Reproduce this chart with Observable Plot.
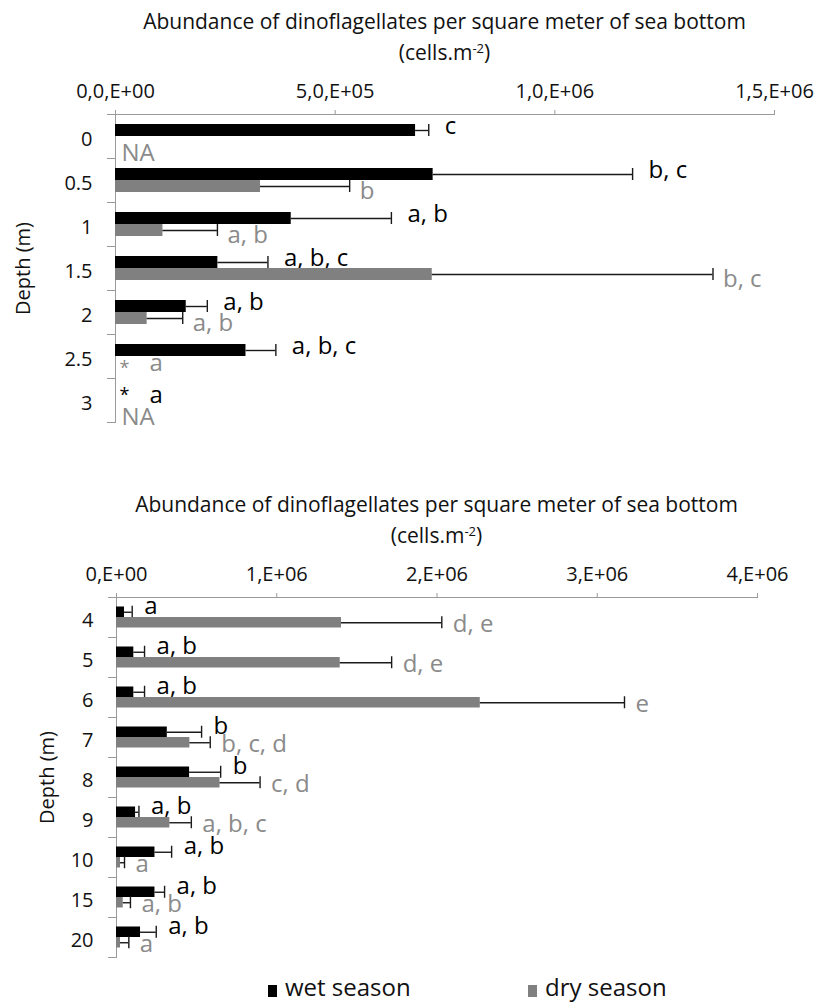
<!DOCTYPE html>
<html>
<head>
<meta charset="utf-8">
<script src="https://cdn.jsdelivr.net/npm/d3@7"></script>
<script src="https://cdn.jsdelivr.net/npm/@observablehq/plot@0.6"></script>
<style>
  body { margin: 0; background: white; font-family: "Open Sans", sans-serif; }
  #wrap { position: relative; width: 817px; height: 1003px; background: white; overflow: hidden; }
  .title { position: absolute; z-index: 3; width: 800px; text-align: center; font-size: 21px; line-height: 31px; color: #111; }
  .title sup { font-size: 13px; vertical-align: 7px; line-height: 0; }
  .svgbox { position: absolute; left: 0; z-index: 1; }
  .leg { position: absolute; z-index: 3; font-size: 24px; color: #111; line-height: 26px; }
  .key { position: absolute; z-index: 3; width: 9px; height: 12px; }
</style>
</head>
<body>
<div id="wrap"></div>
<script>
// ---------- Data: shallow stations (top chart) ----------
const topDepths = ["0", "0.5", "1", "1.5", "2", "2.5", "3"];
const topWet = [683000, 723000, 400000, 233000, 161000, 297000, 0];
const topWetErr = [30000, 454000, 228000, 114000, 48000, 68000, null];
const topWetLabels = ["c", "b, c", "a, b", "a, b, c", "a, b", "a, b, c", "a"];
const topDry = [null, 330000, 108000, 721000, 72000, 0, null];
const topDryErr = [null, 203000, 124000, 639000, 81000, null, null];
const topDryLabels = ["NA", "b", "a, b", "b, c", "a, b", "a", "NA"];
const topTicks = [0, 500000, 1000000, 1500000];
const topTickLabels = ["0,0,E+00", "5,0,E+05", "1,0,E+06", "1,5,E+06"];

// ---------- Data: deeper stations (bottom chart) ----------
const botDepths = ["4", "5", "6", "7", "8", "9", "10", "15", "20"];
const botWet = [50000, 108000, 108000, 317000, 456000, 119000, 240000, 240000, 150000];
const botWetErr = [48000, 67000, 67000, 214000, 194000, 21000, 104000, 60000, 98000];
const botWetLabels = ["a", "a, b", "a, b", "b", "b", "a, b", "a, b", "a, b", "a, b"];
const botDry = [1404000, 1396000, 2270000, 458000, 646000, 333000, 25000, 42000, 25000];
const botDryErr = [626000, 321000, 900000, 127000, 250000, 134000, 25000, 45000, 52000];
const botDryLabels = ["d, e", "d, e", "e", "b, c, d", "c, d", "a, b, c", "a", "a, b", "a"];
const botTicks = [0, 1000000, 2000000, 3000000, 4000000];
const botTickLabels = ["0,E+00", "1,E+06", "2,E+06", "3,E+06", "4,E+06"];

const titleText = "Abundance of dinoflagellates per square meter of sea bottom";
const seasons = ["wet season", "dry season"];
const seasonColors = ["#000000", "#808080"];
const labelColors = ["#000000", "#8a8a8a"];

function rows(depths, vals, errs, labels) {
  return depths.map((d, i) => ({depth: d, value: vals[i], err: errs[i], label: labels[i]}));
}

function chart(cfg) {
  const {depths, wet, dry, xmax, ticks, tickLabels, band, barH, height, marginTop, marginLeft, marginRight, marginBottom, labelOffset, wetDx, wetDy, dryDx, dryDy} = cfg;
  const off = barH / 2;
  const inset = (band - barH) / 2;
  const capInset = (band - 12) / 2;
  const series = [
    {data: wet, color: seasonColors[0], lcolor: labelColors[0], dy: -off, ldx: wetDx, ldy: wetDy, sdy: 1},
    {data: dry, color: seasonColors[1], lcolor: labelColors[1], dy: off, ldx: dryDx, ldy: dryDy, sdy: 6}
  ];
  const marks = [
    Plot.frame({anchor: "top", stroke: "#9a9a9a"}),
    Plot.frame({anchor: "left", stroke: "#9a9a9a"}),
    Plot.ruleY(depths, {y: d => d, dy: -band / 2, x1: 0, x2: 0, insetLeft: -8, stroke: "#9a9a9a"}),
    Plot.ruleY([depths[depths.length - 1]], {y: d => d, dy: band / 2, x1: 0, x2: 0, insetLeft: -8, stroke: "#9a9a9a"}),
    Plot.axisX({anchor: "top", ticks, tickFormat: d => tickLabels[ticks.indexOf(d)], tickSize: 5, tickPadding: 12, stroke: "#9a9a9a", fill: "#111", fontSize: 20, label: null}),
    Plot.axisY({anchor: "left", tickSize: 0, tickPadding: 23, dy: 3, fill: "#111", fontSize: 20, label: "Depth (m)", labelAnchor: "center", labelOffset, labelArrow: "none"})
  ];
  for (const s of series) {
    const valued = s.data.filter(d => d.value > 0);
    const starred = s.data.filter(d => d.value === 0);
    const na = s.data.filter(d => d.value == null);
    marks.push(
      Plot.barX(valued, {x: "value", y: "depth", fill: s.color, insetTop: inset, insetBottom: inset, dy: s.dy}),
      Plot.ruleY(valued, {x1: "value", x2: d => d.value + d.err, y: "depth", dy: s.dy, stroke: "#1a1a1a", strokeWidth: 1.4}),
      Plot.tickX(valued, {x: d => d.value + d.err, y: "depth", dy: s.dy, insetTop: capInset, insetBottom: capInset, stroke: "#1a1a1a", strokeWidth: 1.4}),
      Plot.text(valued, {x: d => d.value + d.err, y: "depth", text: "label", dx: s.ldx, dy: s.dy + s.ldy, textAnchor: "start", fill: s.lcolor, fontSize: 24}),
      Plot.text(starred, {x: 0, y: "depth", text: () => "*", dx: 9, dy: s.dy + s.sdy, textAnchor: "middle", fill: s.lcolor, fontSize: 18}),
      Plot.text(starred, {x: 0, y: "depth", text: "label", dx: 34, dy: s.dy + 1, textAnchor: "start", fill: s.lcolor, fontSize: 24}),
      Plot.text(na, {x: 0, y: "depth", text: "label", dx: 6, dy: s.dy + 11, textAnchor: "start", fill: s.lcolor, fontSize: 24})
    );
  }
  return Plot.plot({
    width: 817, height, marginTop, marginLeft, marginRight, marginBottom,
    style: {fontFamily: "Open Sans, sans-serif", fontSize: "20px", background: "white", color: "#111"},
    x: {domain: [0, xmax]},
    y: {domain: depths, padding: 0},
    marks
  });
}

const wrap = document.getElementById("wrap");

function addTitle(top, cx) {
  const t = document.createElement("div");
  t.className = "title";
  t.style.top = top + "px";
  t.style.left = (cx - 400) + "px";
  t.innerHTML = titleText + "<br>(cells.m<sup>-2</sup>)";
  wrap.appendChild(t);
}

function addChart(top, svg) {
  const box = document.createElement("div");
  box.className = "svgbox";
  box.style.top = top + "px";
  box.appendChild(svg);
  wrap.appendChild(box);
}

// Top chart
addChart(0, chart({
  depths: topDepths,
  wet: rows(topDepths, topWet, topWetErr, topWetLabels),
  dry: rows(topDepths, topDry, topDryErr, topDryLabels),
  xmax: 1500000, ticks: topTicks, tickLabels: topTickLabels,
  band: 44, barH: 12, height: 445, marginTop: 114, marginLeft: 115, marginRight: 43, marginBottom: 23,
  labelOffset: 100, wetDx: 16, wetDy: -4, dryDx: 10, dryDy: 5
}));
addTitle(6, (115 + 774) / 2);

// Bottom chart
addChart(460, chart({
  depths: botDepths,
  wet: rows(botDepths, botWet, botWetErr, botWetLabels),
  dry: rows(botDepths, botDry, botDryErr, botDryLabels),
  xmax: 4000000, ticks: botTicks, tickLabels: botTickLabels,
  band: 40, barH: 10.5, height: 510, marginTop: 137, marginLeft: 116, marginRight: 60, marginBottom: 13,
  labelOffset: 77, wetDx: 12, wetDy: -6, dryDx: 11, dryDy: 2
}));
addTitle(489, (116 + 757) / 2);

// Legend
const legendX = [268, 528];
seasons.forEach((s, i) => {
  const k = document.createElement("div");
  k.className = "key";
  k.style.left = legendX[i] + "px";
  k.style.top = "985px";
  k.style.background = seasonColors[i];
  wrap.appendChild(k);
  const l = document.createElement("div");
  l.className = "leg";
  l.style.left = (legendX[i] + 17) + "px";
  l.style.top = "974px";
  l.textContent = s;
  wrap.appendChild(l);
});
</script>
</body>
</html>
